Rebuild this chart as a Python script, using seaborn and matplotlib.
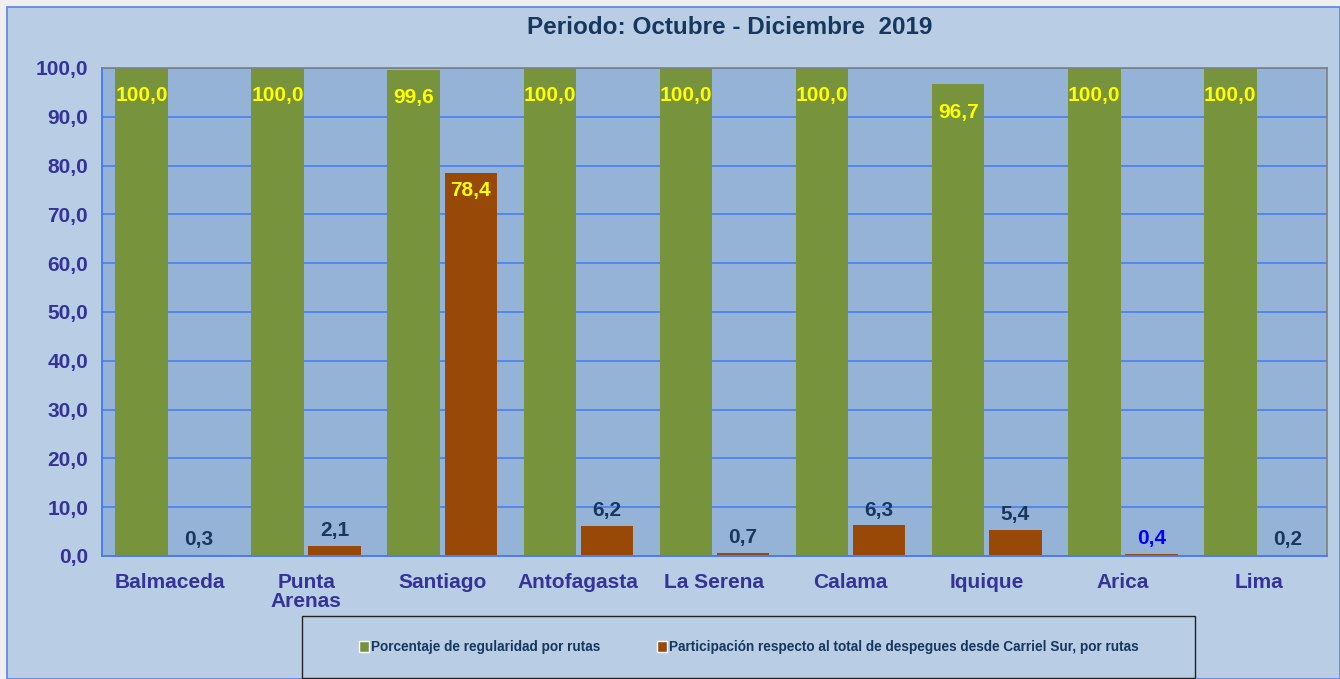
import matplotlib
matplotlib.use('Agg')
import matplotlib.pyplot as plt
from matplotlib.patches import Rectangle, Patch
from matplotlib.ticker import FixedLocator
import pandas as pd
import seaborn as sns

rutas = ['Balmaceda', 'Punta\nArenas', 'Santiago', 'Antofagasta', 'La Serena',
         'Calama', 'Iquique', 'Arica', 'Lima']
regularidad = [100.0, 100.0, 99.6, 100.0, 100.0, 100.0, 96.7, 100.0, 100.0]
participacion = [0.3, 2.1, 78.4, 6.2, 0.7, 6.3, 5.4, 0.4, 0.2]
serie_reg = 'Porcentaje de regularidad por rutas'
serie_par = 'Participación respecto al total de despegues desde Carriel Sur, por rutas'
y_ticks = [0, 10, 20, 30, 40, 50, 60, 70, 80, 90, 100]

GREEN = '#77933c'
BROWN = '#984807'
FIG_BG = '#b9cde5'
AX_BG = '#95b3d7'
GRID = '#4a7cf0'
NAVY = '#17375e'
TICK_C = '#333399'

df = pd.DataFrame({
    'ruta': rutas * 2,
    'valor': regularidad + participacion,
    'serie': [serie_reg] * len(rutas) + [serie_par] * len(rutas),
})

sns.set_style('white')
plt.rcParams['font.family'] = ['Liberation Sans', 'DejaVu Sans']
plt.rcParams['font.weight'] = 'bold'

fig = plt.figure(figsize=(13.4, 6.79), dpi=100)
fig.patch.set_facecolor('#efefef')
# chart area background with blue border
fig.patches.append(Rectangle((7 / 1340, 0), 1333 / 1340, 672 / 679, transform=fig.transFigure,
                             facecolor=FIG_BG, edgecolor='#5b7ff0', linewidth=1.2, zorder=-10))

ax = fig.add_axes([102 / 1340, 1 - 556 / 679, 1225 / 1340, 488 / 679])
ax.set_facecolor(AX_BG)

sns.barplot(data=df, x='ruta', y='valor', hue='serie', palette=[GREEN, BROWN],
            width=0.84, gap=0.08, saturation=1, ax=ax, legend=False, linewidth=0)

ax.set_ylim(0, 100)
ax.set_xlim(-0.5, len(rutas) - 0.5)
ax.yaxis.set_major_locator(FixedLocator(y_ticks))
ax.set_yticklabels([f'{v:.1f}'.replace('.', ',') for v in y_ticks])
ax.grid(axis='y', color=GRID, linewidth=1.2)
ax.set_axisbelow(True)
ax.set_xlabel('')
ax.set_ylabel('')

for side in ['top', 'right']:
    ax.spines[side].set_color('#808080')
    ax.spines[side].set_linewidth(1.2)
for side in ['left', 'bottom']:
    ax.spines[side].set_color(GRID)
    ax.spines[side].set_linewidth(1.4)

ax.tick_params(axis='y', colors=GRID, length=7, width=1.2, labelsize=15, labelcolor=TICK_C, pad=3)
ax.tick_params(axis='x', which='major', length=0, labelsize=15, labelcolor=TICK_C, pad=12)
ax.xaxis.set_minor_locator(FixedLocator([i + 0.5 for i in range(-1, len(rutas))]))
ax.tick_params(axis='x', which='minor', length=7, width=1.2, colors=GRID)
for lab in ax.get_xticklabels() + ax.get_yticklabels():
    lab.set_fontweight('bold')
    lab.set_linespacing(1.0)
for lab in ax.get_xticklabels():
    lab.set_va('top')

fmt = lambda v: f'{v:.1f}'.replace('.', ',')
cont_reg, cont_par = ax.containers[0], ax.containers[1]

ax.bar_label(cont_reg, labels=[fmt(v) for v in regularidad], padding=-27,
             color='#ffff00', fontsize=15, fontweight='bold')

out_labels = [fmt(v) if v < 50 else '' for v in participacion]
texts = ax.bar_label(cont_par, labels=out_labels, padding=4,
                     color=NAVY, fontsize=15, fontweight='bold')
for t, r in zip(texts, rutas):
    if r == 'Arica':
        t.set_color('#0000ff')
ax.bar_label(cont_par, labels=[fmt(v) if v >= 50 else '' for v in participacion],
             padding=-19, color='#ffff00', fontsize=15, fontweight='bold')

fig.text(730 / 1340, 1 - 28 / 679, 'Periodo: Octubre - Diciembre  2019', ha='center', va='center',
         fontsize=17.5, fontweight='bold', color=NAVY)

# legend
fig.patches.append(Rectangle((302 / 1340, 1 - 678 / 679), 893 / 1340, 62 / 679,
                             transform=fig.transFigure, facecolor=FIG_BG,
                             edgecolor='#222222', linewidth=1.0, zorder=1))
handles = [Patch(facecolor=GREEN), Patch(facecolor=BROWN)]
leg = fig.legend(handles, [serie_reg, serie_par], loc='center', ncol=2,
                 bbox_to_anchor=(749 / 1340, 1 - 647 / 679), frameon=False,
                 prop={'size': 9.8, 'weight': 'bold'}, handlelength=0.7, handleheight=0.9,
                 handletextpad=0.15, columnspacing=4.2)
for t in leg.get_texts():
    t.set_color(NAVY)

fig.savefig('out.png', dpi=100)
